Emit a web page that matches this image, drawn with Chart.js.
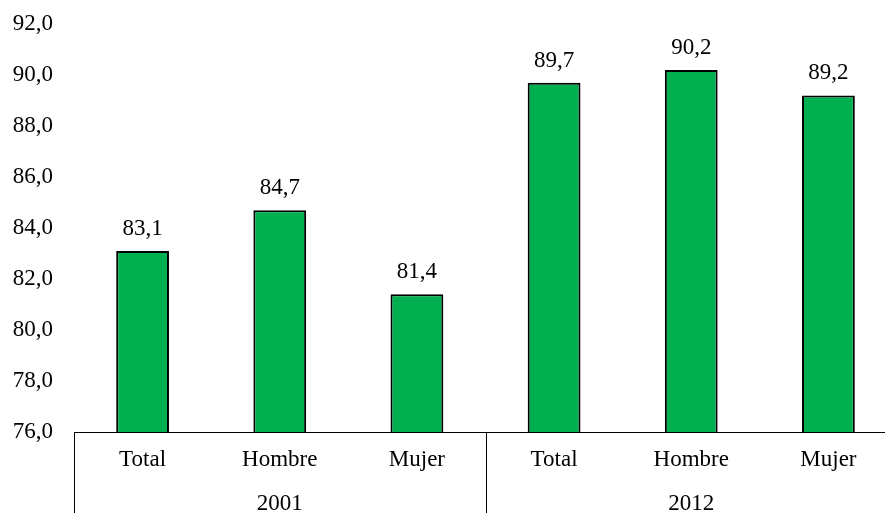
<!DOCTYPE html>
<html>
<head>
<meta charset="utf-8">
<script src="https://cdn.jsdelivr.net/npm/chart.js@4"></script>
<style>
    html, body { margin: 0; padding: 0; background: #fff; overflow: hidden; }
    #wrap { width: 885px; height: 513px; overflow: hidden; position: relative; }
    #fontwarm { position: absolute; left: 0; top: 0; visibility: hidden; font: 23px "Liberation Serif"; }
</style>
</head>
<body>
<div id="wrap">
    <span id="fontwarm">Total Hombre Mujer 2001 2012 92,0</span>
    <canvas id="chart" width="900" height="513"></canvas>
</div>
<script>
// Chart data
const subLabels = ['Total', 'Hombre', 'Mujer', 'Total', 'Hombre', 'Mujer'];
const yearLabels = ['2001', '2012'];
const values = [83.1, 84.7, 81.4, 89.7, 90.2, 89.2];
const yMin = 76;
const yMax = 92;
const yStep = 2;

const serif = '"Liberation Serif"';
const fmt = v => v.toFixed(1).replace('.', ',');

// Value labels above each bar
const valueLabels = {
    id: 'valueLabels',
    afterDatasetsDraw(chart) {
        const ctx = chart.ctx;
        const meta = chart.getDatasetMeta(0);
        ctx.save();
        ctx.font = '23px ' + serif;
        ctx.fillStyle = '#000';
        ctx.textAlign = 'center';
        ctx.textBaseline = 'alphabetic';
        meta.data.forEach((bar, i) => {
            ctx.fillText(fmt(values[i]), bar.x, bar.y - 16);
        });
        ctx.restore();
    }
};

// Vertical separators between the year groups under the axis
const groupLines = {
    id: 'groupLines',
    afterDraw(chart) {
        const ctx = chart.ctx;
        const area = chart.chartArea;
        const x = chart.scales.x;
        const per = subLabels.length / yearLabels.length;
        ctx.save();
        ctx.strokeStyle = '#000';
        ctx.lineWidth = 1;
        for (let g = 0; g <= yearLabels.length; g++) {
            const px = Math.round(x.getPixelForValue(g * per - 0.5)) + 0.5;
            ctx.beginPath();
            ctx.moveTo(px, area.bottom);
            ctx.lineTo(px, chart.height);
            ctx.stroke();
        }
        ctx.restore();
    }
};

function drawChart() {
    new Chart(document.getElementById('chart'), {
        type: 'bar',
        data: {
            labels: subLabels,
            datasets: [{
                data: values,
                backgroundColor: '#00b050',
                borderColor: '#000',
                borderWidth: 2,
                categoryPercentage: 1,
                barPercentage: 0.385
            }]
        },
        options: {
            responsive: false,
            animation: false,
            layout: { padding: { top: 24, right: 3, left: 0, bottom: 0 } },
            plugins: {
                legend: { display: false },
                tooltip: { enabled: false }
            },
            scales: {
                y: {
                    min: yMin,
                    max: yMax,
                    grid: { display: false, drawTicks: false },
                    border: { display: false },
                    afterFit: s => {
                        s.width = 74;
                        s.paddingTop = 0;
                        s.paddingBottom = 0;
                    },
                    ticks: {
                        stepSize: yStep,
                        padding: 21,
                        color: '#000',
                        font: { family: serif, size: 23 },
                        callback: v => fmt(v)
                    }
                },
                x: {
                    grid: { display: false, drawTicks: false },
                    border: { display: true, color: '#000', width: 1 },
                    afterFit: s => { s.height = 42; },
                    ticks: {
                        padding: 14,
                        color: '#000',
                        font: { family: serif, size: 23 },
                        maxRotation: 0,
                        autoSkip: false
                    }
                },
                x2: {
                    type: 'category',
                    position: 'bottom',
                    labels: yearLabels,
                    offset: true,
                    grid: { display: false, drawTicks: false },
                    border: { display: false },
                    afterFit: s => { s.height = 39; },
                    ticks: {
                        padding: 16,
                        color: '#000',
                        font: { family: serif, size: 23 },
                        maxRotation: 0
                    }
                }
            }
        },
        plugins: [valueLabels, groupLines]
    });
}

if (document.fonts && document.fonts.load) {
    document.fonts.load('23px ' + serif).then(drawChart, drawChart);
} else {
    drawChart();
}
</script>
</body>
</html>
